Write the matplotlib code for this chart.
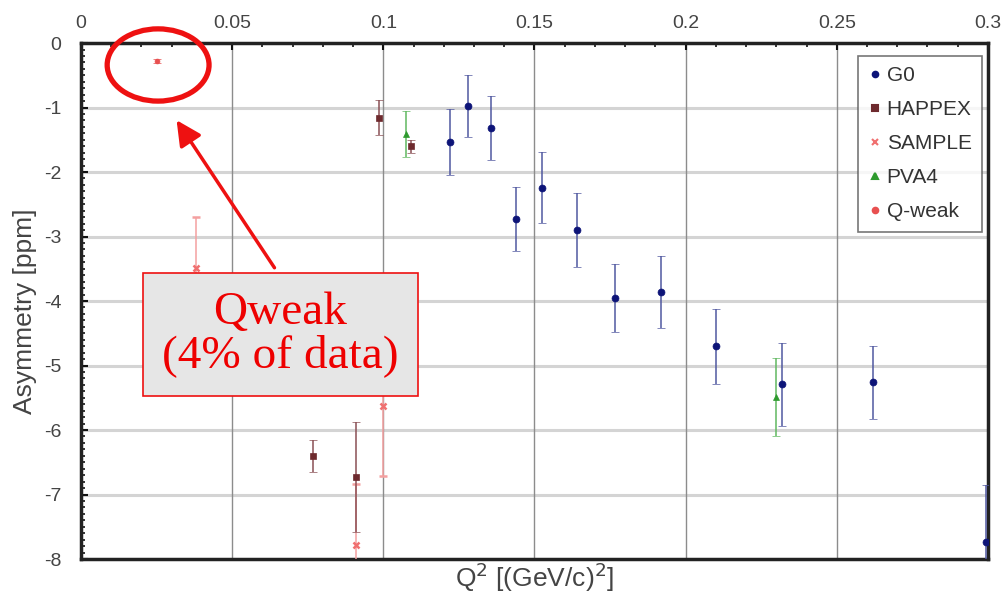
import numpy as np
import matplotlib
matplotlib.use('Agg')
import matplotlib.pyplot as plt
from matplotlib.patches import Ellipse
from matplotlib.lines import Line2D
from matplotlib.ticker import MultipleLocator

plt.rcParams['font.family'] = ['Liberation Sans', 'DejaVu Sans']
plt.rcParams['axes.unicode_minus'] = False

# Q^2 [(GeV/c)^2], asymmetry [ppm], error [ppm] for each experiment
g0_q2 = [0.122, 0.128, 0.1357, 0.144, 0.1525, 0.164, 0.1767, 0.192, 0.210, 0.232, 0.262, 0.2995]
g0_asym = [-1.53, -0.98, -1.32, -2.73, -2.24, -2.90, -3.95, -3.86, -4.70, -5.29, -5.26, -7.74]
g0_err = [0.51, 0.48, 0.50, 0.50, 0.55, 0.58, 0.53, 0.56, 0.58, 0.64, 0.57, 0.89]

happex_q2 = [0.0767, 0.091, 0.0986, 0.109]
happex_asym = [-6.40, -6.73, -1.16, -1.60]
happex_err = [0.25, 0.85, 0.27, 0.10]

sample_q2 = [0.038, 0.091, 0.100]
sample_asym = [-3.49, -7.78, -5.62]
sample_err = [0.79, 0.95, 1.10]

pva4_q2 = [0.1075, 0.230]
pva4_asym = [-1.41, -5.49]
pva4_err = [0.36, 0.60]

qweak_q2 = [0.025]
qweak_asym = [-0.28]
qweak_err = [0.03]

labels = ['G0', 'HAPPEX', 'SAMPLE', 'PVA4', 'Q-weak']
colors = ['#0d1478', '#6e2a2e', '#f07070', '#2e9a2e', '#e85050']
ecolors = ['#5058a0', '#8a5055', '#f4a0a0', '#60b860', '#e85050']
markers = ['o', 's', 'x', '^', 'o']

fig = plt.figure(figsize=(10.04, 5.98), dpi=100)
ax = fig.add_axes([0.0807, 0.0652, 0.9033, 0.8628])

# light horizontal grid, darker thin vertical grid
for yv in range(-7, 0):
    ax.axhline(yv, color='#d4d4d4', lw=2.2, zorder=0)
for xv in [0.05, 0.1, 0.15, 0.2, 0.25]:
    ax.axvline(xv, color='#8c8c8c', lw=1.0, zorder=0)

series = [(g0_q2, g0_asym, g0_err, 5, 5),
          (happex_q2, happex_asym, happex_err, 5, 4),
          (sample_q2, sample_asym, sample_err, 5, 3),
          (pva4_q2, pva4_asym, pva4_err, 5, 4),
          (qweak_q2, qweak_asym, qweak_err, 3.5, 4)]
for i, (x, y, e, ms, z) in enumerate(series):
    ax.errorbar(x, y, yerr=e, fmt=markers[i], ms=ms, mew=1.8 if markers[i] == 'x' else 0.5,
                color=colors[i], ecolor=ecolors[i], elinewidth=1.1, capsize=3, zorder=z)

ax.set_xlim(0, 0.3)
ax.set_ylim(-8, 0)
ax.xaxis.set_major_locator(MultipleLocator(0.05))
ax.xaxis.set_minor_locator(MultipleLocator(0.01))
ax.yaxis.set_major_locator(MultipleLocator(1))
ax.yaxis.set_minor_locator(MultipleLocator(0.1))
ax.xaxis.set_major_formatter(plt.FuncFormatter(lambda v, p: ('%g' % round(v, 3))))
ax.tick_params(axis='x', which='both', top=True, bottom=False, labeltop=True, labelbottom=False,
               direction='in', colors='#111111', labelcolor='#444444', labelsize=14)
ax.tick_params(axis='y', which='both', left=True, right=False, direction='in',
               colors='#111111', labelcolor='#444444', labelsize=14)
ax.tick_params(axis='x', which='major', pad=8)
ax.tick_params(axis='y', which='major', pad=14)
ax.tick_params(which='major', length=5, width=1.5)
ax.tick_params(which='minor', length=3, width=1.2)
for s in ax.spines.values():
    s.set_linewidth(2.5)
    s.set_color('#222222')

ax.set_xlabel('Q$^2$ [(GeV/c)$^2$]', fontsize=19, color='#444444', labelpad=1)
ax.set_ylabel('Asymmetry [ppm]', fontsize=19, color='#444444')
ax.yaxis.set_label_coords(-0.049, 0.48)

handles = [Line2D([], [], ls='none', marker=markers[i], color=colors[i],
                  ms=4 if markers[i] != 'x' else 5, mew=1.5) for i in range(len(labels))]
leg = ax.legend(handles, labels, loc='upper right', fontsize=15, handletextpad=0.25,
                handlelength=0.6, borderpad=0.5, labelspacing=0.72, fancybox=False,
                bbox_to_anchor=(0.9935, 0.975), borderaxespad=0)
leg.get_frame().set_edgecolor('#555555')
leg.get_frame().set_linewidth(1.2)
for t in leg.get_texts():
    t.set_color('#333333')

# highlight the Qweak point
ax.add_patch(Ellipse((0.0255, -0.34), 0.0337, 1.12, fill=False, ec='#ee1111', lw=3.8,
                     clip_on=False, zorder=8))
ax.annotate('', xy=(0.0311, -1.16), xytext=(0.0645, -3.52),
            arrowprops=dict(arrowstyle='-|>', color='#ee1111', lw=2.5, mutation_scale=38),
            zorder=8)
ax.text(0.066, -4.52, 'Qweak\n(4% of data)', ha='center', va='center', fontsize=34,
        color='#ee0000', family='Liberation Serif', linespacing=1.0, zorder=9,
        bbox=dict(boxstyle='square,pad=0.4', fc='#e6e6e6', ec='#ee1111', lw=1.2))

fig.savefig('out.png', dpi=100)
